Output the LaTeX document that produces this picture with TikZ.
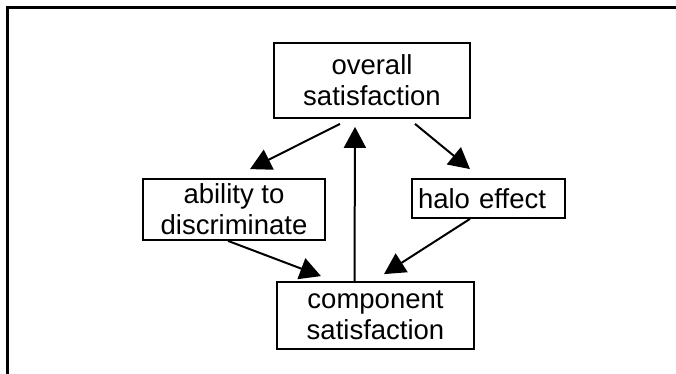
\documentclass[tikz,border=0pt]{standalone}
\usepackage{fontspec}
\setmainfont{Liberation Sans}
\usepackage{tikz}
\usetikzlibrary{arrows.meta, positioning}

\tikzset{
  boxnode/.style={draw, line width=1.8pt, align=center, inner sep=0pt,
    font=\fontsize{27.5}{31}\selectfont},
  link/.style={line width=2pt, -{Triangle[length=21pt,width=22pt]}}
}

\begin{document}
\begin{tikzpicture}[x=1pt, y=1pt]
  \useasboundingbox (0,0) rectangle (676,-374);
  \draw[line width=3pt] (7,-374) -- (7,-8) -- (676,-8);

  \node (overall)   [boxnode, minimum width=196pt, minimum height=75pt] at (372,-80.5)  {overall\\satisfaction};
  \node (ability)   [boxnode, minimum width=182pt, minimum height=61pt] at (234,-209.5) {ability to\\discriminate};
  \node (halo)      [boxnode, align=left, text width=141pt, minimum width=153pt, minimum height=39pt] at (488.5,-198.5) {halo effect};
  \node (component) [boxnode, minimum width=197pt, minimum height=67pt] at (375.5,-315.5) {component\\satisfaction};

  \draw[link] ([xshift=-32pt,yshift=-5pt]overall.south) -- ([xshift=16pt,yshift=9pt]ability.north);
  \draw[link] ([xshift=43pt,yshift=-5pt]overall.south) -- ([xshift=-18.5pt,yshift=9pt]halo.north);
  \draw[link] ([xshift=-21pt]component.north) -- ([xshift=-17pt,yshift=-8pt]overall.south);
  \draw[link] ([xshift=-6pt]ability.south) -- ([xshift=-54.5pt,yshift=5pt]component.north);
  \draw[link] ([xshift=-18.5pt]halo.south) -- ([xshift=8.5pt,yshift=7pt]component.north);
\end{tikzpicture}
\end{document}
